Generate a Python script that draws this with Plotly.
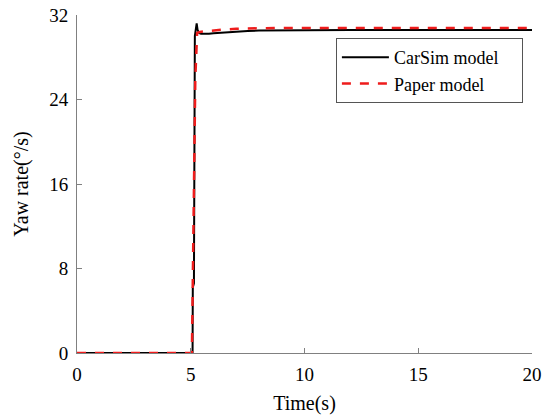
import plotly.graph_objects as go

# CarSim model data (time s, yaw rate deg/s)
carsim_t = [0, 5.08, 5.09, 5.14, 5.18, 5.22, 5.26, 5.3, 5.36, 5.45, 5.6, 5.8, 6.0, 6.5, 7.0, 7.5, 8.0, 9.0, 10.0, 12.0, 15.0, 20.0]
carsim_y = [0, 0, 6.2, 6.6, 30.0, 30.9, 31.2, 30.6, 30.3, 30.22, 30.2, 30.22, 30.27, 30.36, 30.43, 30.49, 30.53, 30.56, 30.58, 30.58, 30.58, 30.58]

# Paper model data
paper_t = [0, 5.05, 5.12, 5.2, 5.28, 5.4, 5.6, 6.0, 6.5, 7.0, 8.0, 9.0, 10.0, 12.0, 15.0, 20.0]
paper_y = [0, 0, 12.0, 26.0, 30.3, 30.4, 30.45, 30.55, 30.63, 30.7, 30.76, 30.78, 30.78, 30.78, 30.78, 30.78]

x_ticks = [0, 5, 10, 15, 20]
y_ticks = [0, 8, 16, 24, 32]
legend_names = ["CarSim model", "Paper model"]

font_family = "Liberation Serif, serif"
pad = "\u00a0" * 4

fig = go.Figure()
fig.add_trace(go.Scatter(x=carsim_t, y=carsim_y, mode="lines", name=legend_names[0] + pad,
                         line=dict(color="black", width=2)))
fig.add_trace(go.Scatter(x=paper_t, y=paper_y, mode="lines", name=legend_names[1] + pad,
                         line=dict(color="#ee1c1c", width=2.5, dash="dash")))

axis_common = dict(showgrid=False, zeroline=False, showline=True, linecolor="#808080",
                   linewidth=1, ticks="inside", ticklen=5, tickcolor="#808080",
                   ticklabelstandoff=4, automargin=False,
                   tickfont=dict(family=font_family, size=19, color="black"))

fig.update_xaxes(range=[0, 20], tickvals=x_ticks, title=dict(text="Time(s)", standoff=12,
                 font=dict(family=font_family, size=20, color="black")), **axis_common)
fig.update_yaxes(range=[0, 32], tickvals=y_ticks, title=dict(text="Yaw rate(°/s)", standoff=15,
                 font=dict(family=font_family, size=20, color="black")), **axis_common)

fig.update_layout(
    width=558, height=416,
    margin=dict(l=77, r=26, t=15, b=63),
    plot_bgcolor="white", paper_bgcolor="white",
    font=dict(family=font_family, color="black"),
    legend=dict(x=0.98, y=0.932, xanchor="right", yanchor="top",
                bordercolor="#555555", borderwidth=1, bgcolor="white",
                font=dict(family=font_family, size=18, color="black"),
                tracegroupgap=0, itemwidth=47),
)

fig.write_html("out.html")
